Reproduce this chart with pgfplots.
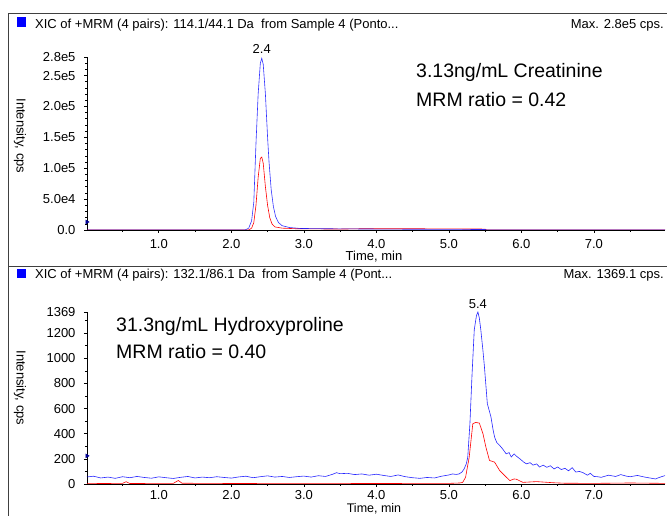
\documentclass[border=0pt]{standalone}
\usepackage{pgfplots}
\pgfplotsset{compat=1.18}
\usepackage{fontspec}
\setmainfont{Liberation Sans}
\definecolor{trblue}{RGB}{0,0,255}
\definecolor{trred}{RGB}{255,0,0}
\definecolor{mkblue}{RGB}{0,0,150}
\pgfplotsset{chrom/.style={
  scale only axis, width=578pt, xmin=0.01, xmax=7.98,
  axis x line*=bottom, axis y line*=left,
  axis line style={-, black, line width=0.7pt},
  xtick={1,2,3,4,5,6,7}, xticklabels={1.0,2.0,3.0,4.0,5.0,6.0,7.0},
  minor xtick={0.5,1.5,2.5,3.5,4.5,5.5,6.5,7.5},
  tick align=outside, major tick length=3pt, minor tick length=2pt,
  tick style={black, line width=0.6pt},
  ticklabel style={font=\fontsize{13}{15}\selectfont},
  xticklabel style={yshift=-3pt},
  yticklabel style={xshift=-5pt},
  /pgf/number format/assume math mode=true,
  clip mode=individual,
}}
\begin{document}
\begin{tikzpicture}[x=1pt,y=1pt]
\path[use as bounding box] (0,0) rectangle (667,516);
% frame
\draw[line width=0.8pt, black!75] (8,0) -- (8,503) -- (667,503);
\draw[line width=0.8pt, black!75] (8,250) -- (667,250);
% headers
\fill[trblue] (17,489) rectangle (26,499);
\node[anchor=base west, inner sep=0, font=\fontsize{13}{15}\selectfont] at (35,487) {XIC of +MRM (4 pairs): 114.1/44.1 Da\ \ from Sample 4 (Ponto...};
\node[anchor=base east, inner sep=0, font=\fontsize{13}{15}\selectfont] at (664,487) {Max. 2.8e5 cps.};
\fill[trblue] (17,238) rectangle (26,247);
\node[anchor=base west, inner sep=0, font=\fontsize{13}{15}\selectfont] at (35,237) {XIC of +MRM (4 pairs): 132.1/86.1 Da\ \ from Sample 4 (Pont...};
\node[anchor=base east, inner sep=0, font=\fontsize{13}{15}\selectfont] at (664,237) {Max. 1369.1 cps.};
% axis labels
\node[rotate=-90, font=\fontsize{13}{15}\selectfont] at (20,380) {Intensity, cps};
\node[rotate=-90, font=\fontsize{13}{15}\selectfont] at (20,128) {Intensity, cps};
\node[font=\fontsize{13}{15}\selectfont] at (374,259) {Time, min};
\node[anchor=base, font=\fontsize{12.5}{14}\selectfont, inner sep=0] at (374,3) {Time, min};
% annotations
\node[anchor=west, inner sep=0, font=\fontsize{19.5}{22}\selectfont] at (416,444) {3.13ng/mL Creatinine};
\node[anchor=west, inner sep=0, font=\fontsize{19.5}{22}\selectfont] at (416,416) {MRM ratio = 0.42};
\node[anchor=west, inner sep=0, font=\fontsize{19.5}{22}\selectfont] at (116,190) {31.3ng/mL Hydroxyproline};
\node[anchor=west, inner sep=0, font=\fontsize{19.5}{22}\selectfont] at (116,164) {MRM ratio = 0.40};

% ---------------- top panel ----------------
\begin{axis}[chrom, at={(87pt,286pt)}, anchor=south west, height=173pt,
  ymin=0, ymax=280000,
  ytick={0,50000,100000,150000,200000,250000,280000},
  yticklabels={0.0,5.0e4,1.0e5,1.5e5,2.0e5,2.5e5,2.8e5},
  minor ytick={10000,20000,30000,40000,60000,70000,80000,90000,110000,120000,130000,140000,160000,170000,180000,190000,210000,220000,230000,240000,260000,270000},
  scaled y ticks=false]
\addplot[trred, line width=0.6pt] coordinates {
(0.01,0) (2.24,0) (2.28,3000) (2.31,12000) (2.34,40000) (2.37,85000) (2.40,116000) (2.42,118000) (2.44,108000) (2.47,70000) (2.50,40000) (2.53,20000) (2.56,10000) (2.60,5000) (2.70,3000) (2.90,2000) (3.50,1500) (3.80,2000) (4.50,2000) (5.00,1800) (5.50,1500) (5.52,0) (7.98,0)};
\addplot[trblue, line width=0.6pt, opacity=0.8] coordinates {
(0.01,0) (2.19,0) (2.24,3000) (2.28,15000) (2.31,45000) (2.34,140000) (2.37,220000) (2.40,270000) (2.42,278000) (2.44,268000) (2.47,220000) (2.50,150000) (2.52,110000) (2.55,65000) (2.58,38000) (2.61,22000) (2.65,12000) (2.70,7000) (2.80,4000) (2.95,2500) (3.30,2000) (3.60,1800) (4.00,1500) (4.50,1200) (5.00,1000) (5.50,800) (5.52,0) (7.98,0)};
\addplot[only marks, mark=triangle*, mark size=2.2pt, mkblue, mark options={rotate=-90}] coordinates {(0.01,13000)};
\node[anchor=south, inner sep=0, font=\fontsize{13}{15}\selectfont] at (axis cs:2.42,280000) [yshift=3pt] {2.4};
\end{axis}

% ---------------- bottom panel ----------------
\begin{axis}[chrom, at={(87pt,32pt)}, anchor=south west, height=172pt,
  ymin=0, ymax=1369,
  ytick={0,200,400,600,800,1000,1200,1369},
  yticklabels={0,200,400,600,800,1000,1200,1369},
  minor ytick={100,300,500,700,900,1100,1300},
  xticklabel style={yshift=1pt, inner ysep=1pt}]
\addplot[trred, line width=0.6pt] coordinates {
(0.01,3) (0.50,5) (0.55,18) (0.60,4) (1.20,5) (1.27,28) (1.32,6) (2.00,4) (3.00,5) (4.00,4) (5.00,5) (5.15,8) (5.19,13) (5.23,53) (5.28,213) (5.33,480) (5.37,490) (5.42,485) (5.47,400) (5.51,294) (5.56,187) (5.60,180) (5.63,174) (5.70,107) (5.77,67) (5.84,27) (5.90,40) (5.93,38) (6.02,13) (6.21,19) (6.44,10) (6.60,6) (7.00,5) (7.50,8) (7.98,5)};
\addplot[trblue, line width=0.6pt, opacity=0.85] coordinates {
(0.01,56) (0.1,62) (0.2,48) (0.3,55) (0.4,45) (0.5,58) (0.6,50) (0.7,60) (0.8,52) (0.9,46) (1.0,57) (1.1,50) (1.2,44) (1.3,53) (1.4,60) (1.5,48) (1.6,55) (1.7,50) (1.8,58) (1.9,52) (2.0,47) (2.1,56) (2.2,62) (2.3,50) (2.4,58) (2.5,65) (2.6,55) (2.7,60) (2.8,52) (2.9,58) (3.0,63) (3.1,55) (3.2,66) (3.3,60) (3.4,78) (3.45,90) (3.5,82) (3.6,85) (3.7,75) (3.8,80) (3.9,70) (4.0,78) (4.1,68) (4.2,60) (4.3,72) (4.4,58) (4.5,50) (4.6,45) (4.7,52) (4.8,48) (4.9,62) (5.0,72) (5.05,80) (5.1,76) (5.14,80) (5.18,95) (5.21,120) (5.24,160) (5.26,213) (5.29,480) (5.32,880) (5.35,1228) (5.38,1340) (5.40,1369) (5.42,1320) (5.44,1228) (5.47,1060) (5.49,934) (5.53,640) (5.58,534) (5.61,430) (5.63,374) (5.66,330) (5.70,307) (5.74,280) (5.79,240) (5.83,250) (5.86,215) (5.90,240) (5.93,222) (5.98,200) (6.03,175) (6.07,160) (6.12,170) (6.16,150) (6.21,160) (6.25,135) (6.30,150) (6.35,133) (6.40,145) (6.45,120) (6.50,135) (6.55,115) (6.60,125) (6.65,105) (6.70,130) (6.75,95) (6.80,100) (6.85,90) (6.91,70) (6.95,85) (7.00,60) (7.05,58) (7.10,53) (7.20,70) (7.30,60) (7.37,75) (7.45,62) (7.50,58) (7.60,68) (7.70,55) (7.80,45) (7.85,40) (7.90,52) (7.98,67)};
\addplot[only marks, mark=triangle*, mark size=2.2pt, mkblue, mark options={rotate=-90}] coordinates {(0.01,224)};
\node[anchor=south, inner sep=0, font=\fontsize{13}{15}\selectfont] at (axis cs:5.40,1369) [yshift=3pt] {5.4};
\end{axis}
\end{tikzpicture}
\end{document}
